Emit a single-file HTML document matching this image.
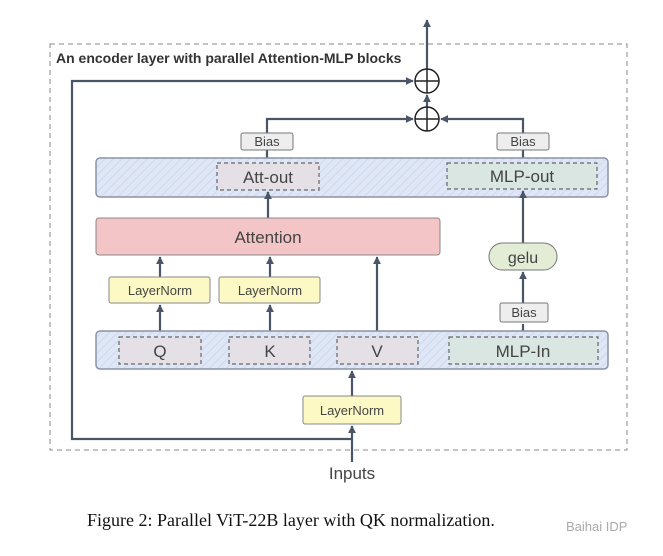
<!DOCTYPE html>
<html><head><meta charset="utf-8"><style>
body{margin:0;background:#fff;}
svg{display:block}
text{font-family:"Liberation Sans",sans-serif;}
text.cap{font-family:"Liberation Serif",serif;}
</style></head><body>
<svg width="663" height="556" viewBox="0 0 663 556" xmlns="http://www.w3.org/2000/svg">
<defs>
<pattern id="st" width="6" height="6" patternUnits="userSpaceOnUse" patternTransform="rotate(45)">
<rect width="6" height="6" fill="#dfe7f6"/><line x1="0" y1="0" x2="0" y2="6" stroke="#cfd9ee" stroke-width="2"/>
</pattern>
<marker id="a" viewBox="0 0 10 10" refX="9" refY="5" markerWidth="3.6" markerHeight="3.6" orient="auto"><path d="M0,0L10,5L0,10z" fill="#4a5568"/></marker>
</defs>
<rect x="50" y="44" width="577" height="406" fill="none" stroke="#888" stroke-dasharray="5,4"/>
<text x="56" y="63" font-size="14" font-weight="bold" fill="#333">An encoder layer with parallel Attention-MLP blocks</text>
<g stroke="#4a5568" stroke-width="2.2" fill="none">
<path d="M427,69 V20" marker-end="url(#a)"/>
<path d="M352,462 V426" marker-end="url(#a)"/>
<path d="M352,439 H72 V81 H413" marker-end="url(#a)"/>
<path d="M427,107 V95" marker-end="url(#a)"/>
<path d="M267,158 V119 H413" marker-end="url(#a)"/>
<path d="M523,158 V119 H441" marker-end="url(#a)"/>
<path d="M352,396 V371" marker-end="url(#a)"/>
<path d="M160,337 V305" marker-end="url(#a)"/>
<path d="M270,337 V305" marker-end="url(#a)"/>
<path d="M160,277 V257" marker-end="url(#a)"/>
<path d="M270,277 V257" marker-end="url(#a)"/>
<path d="M377,337 V257" marker-end="url(#a)"/>
<path d="M523,337 V324" />
<path d="M523,303 V272" marker-end="url(#a)"/>
</g>
<g stroke="#222" stroke-width="1.5" fill="#fff">
<circle cx="427" cy="81" r="12"/><circle cx="427" cy="119" r="12"/>
</g>
<g stroke="#222" stroke-width="1.5">
<path d="M415,81H439M427,69V93M415,119H439M427,107V131"/>
</g>
<rect x="96" y="158" width="512" height="39" rx="4" fill="url(#st)" stroke="#8a94a6" stroke-width="1.5"/>
<rect x="96" y="331" width="512" height="38" rx="4" fill="url(#st)" stroke="#8a94a6" stroke-width="1.5"/>
<g stroke="#666" stroke-dasharray="4,3" stroke-width="1.2">
<rect x="217" y="163" width="102" height="27" fill="#e4e0e6"/>
<rect x="447" y="163" width="150" height="26" fill="#d9e6e2"/>
<rect x="119" y="337" width="82" height="27" fill="#e4e0e6"/>
<rect x="229" y="337" width="81" height="27" fill="#e4e0e6"/>
<rect x="337" y="337" width="81" height="27" fill="#e4e0e6"/>
<rect x="449" y="337" width="149" height="27" fill="#d9e6e2"/>
</g>
<g stroke="#4a5568" stroke-width="2.2" fill="none">
<path d="M268,218 V192" marker-end="url(#a)"/>
<path d="M523,243 V191" marker-end="url(#a)"/>
</g>
<rect x="96" y="218" width="344" height="37" rx="3" fill="#f3c5c7" stroke="#888"/>
<rect x="489" y="243" width="68" height="27" rx="13.5" fill="#e3ecd5" stroke="#777"/>
<g fill="#fcf9c4" stroke="#888">
<rect x="109" y="277" width="101" height="26" rx="2"/>
<rect x="219" y="277" width="101" height="26" rx="2"/>
<rect x="303" y="396" width="98" height="28" rx="2"/>
</g>
<g fill="#eee" stroke="#777">
<rect x="241" y="133" width="52" height="17" rx="2"/>
<rect x="497" y="133" width="52" height="17" rx="2"/>
<rect x="500" y="303" width="48" height="19" rx="2"/>
</g>
<g fill="#444" text-anchor="middle">
<text x="267" y="146" font-size="13">Bias</text>
<text x="523" y="146" font-size="13">Bias</text>
<text x="524" y="317" font-size="13">Bias</text>
<text x="268" y="183" font-size="17">Att-out</text>
<text x="522" y="182" font-size="17">MLP-out</text>
<text x="268" y="243" font-size="17">Attention</text>
<text x="523" y="263" font-size="16">gelu</text>
<text x="160" y="295" font-size="13">LayerNorm</text>
<text x="270" y="295" font-size="13">LayerNorm</text>
<text x="352" y="415" font-size="13">LayerNorm</text>
<text x="160" y="357" font-size="17">Q</text>
<text x="270" y="357" font-size="17">K</text>
<text x="377" y="357" font-size="17">V</text>
<text x="523" y="357" font-size="17">MLP-In</text>
<text x="352" y="479" font-size="17">Inputs</text>
</g>
<text class="cap" x="87" y="526" font-size="18" fill="#111">Figure 2: Parallel ViT-22B layer with QK normalization.</text>
<text x="566" y="531" font-size="13" fill="#aaa">Baihai IDP</text>
</svg>
</body></html>
